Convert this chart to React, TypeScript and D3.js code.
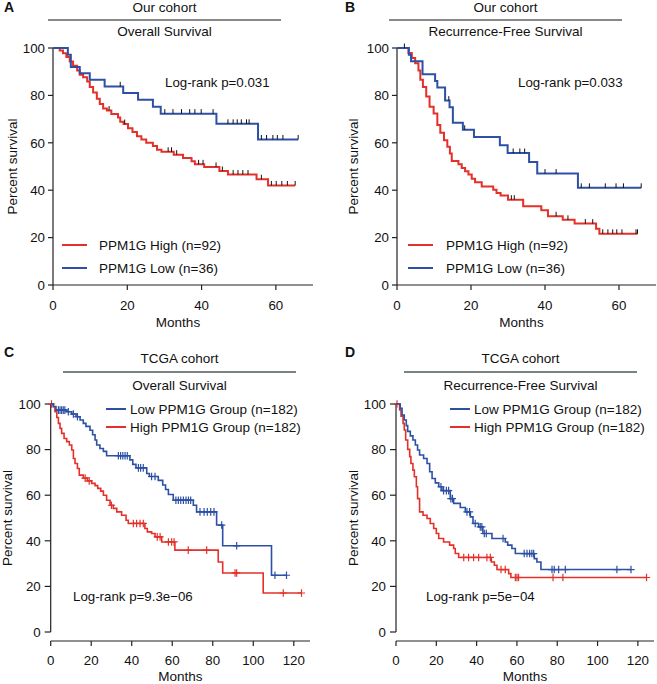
import React from 'react';
import * as d3 from 'd3';

const RED = '#e5302a';
const BLUE = '#2d50a5';
const FONT = '"Liberation Sans", Arial, Helvetica, sans-serif';

// ---------- Panel A: Our cohort, Overall Survival ----------
const aLowTimes = [4.0, 4.8, 7.2, 9.9, 13.9, 18.9, 22.9, 26.9, 29.0, 44.0, 55.2];
const aLowSurv = [97.2, 92.0, 89.3, 86.6, 83.8, 81.0, 78.2, 75.2, 72.3, 68.0, 61.4];
const aLowCensor = [18.1, 30.1, 32.3, 34.6, 36.8, 38.2, 39.9, 43.1, 47.1, 48.5, 49.6, 50.7, 52.1, 52.8, 56.1, 57.5, 59.2, 60.4, 61.9, 66.0];
const aHighTimes = [1.8, 2.7, 3.6, 4.5, 5.4, 6.5, 7.2, 8.1, 9.2, 9.9, 10.8, 11.8, 12.6, 13.5, 14.5, 15.7, 17.5, 18.1, 19.0, 20.2, 21.4, 22.6, 23.8, 25.1, 26.9, 28.0, 29.2, 32.5, 35.0, 37.3, 38.2, 40.7, 44.8, 47.1, 54.8, 57.9];
const aHighSurv = [98.9, 97.8, 96.2, 94.3, 92.5, 90.5, 88.7, 87.7, 85.9, 83.5, 81.2, 78.6, 76.4, 74.5, 73.6, 72.1, 70.7, 68.9, 67.9, 66.1, 64.6, 62.8, 61.4, 60.0, 58.6, 57.1, 56.2, 55.0, 53.6, 52.2, 50.9, 49.8, 48.1, 46.6, 44.6, 42.0];
const aHighCensor = [15.1, 19.3, 31.0, 31.9, 33.3, 39.2, 40.4, 43.9, 45.6, 48.5, 49.8, 51.1, 52.5, 56.1, 58.8, 60.1, 61.6, 63.1, 65.2];

// ---------- Panel B: Our cohort, Recurrence-Free Survival ----------
const bLowTimes = [3.2, 3.8, 6.9, 10.3, 10.9, 13.0, 14.2, 15.1, 17.8, 20.8, 27.8, 29.9, 35.7, 37.9, 48.9];
const bLowSurv = [97.2, 94.4, 88.9, 86.1, 83.3, 77.8, 75.0, 68.5, 65.5, 62.5, 59.0, 55.7, 51.9, 47.0, 41.0];
const bLowCensor = [2.0, 14.0, 18.3, 31.4, 33.2, 34.5, 40.0, 43.0, 49.8, 52.0, 56.3, 59.2, 61.2, 66.0];
const bHighTimes = [3.1, 4.0, 4.9, 5.8, 6.3, 7.0, 7.9, 8.8, 9.9, 10.9, 11.7, 12.7, 13.6, 14.3, 14.8, 16.6, 17.5, 18.4, 19.3, 20.2, 21.1, 22.9, 26.0, 26.9, 28.0, 30.0, 34.1, 39.0, 40.8, 44.8, 48.0, 53.8, 54.7];
const bHighSurv = [97.9, 95.8, 93.6, 90.5, 86.6, 83.5, 79.5, 75.2, 72.4, 67.5, 64.2, 61.1, 58.3, 55.5, 52.3, 50.9, 49.4, 48.0, 46.6, 44.8, 43.4, 41.6, 40.2, 38.8, 37.8, 36.0, 33.2, 31.5, 29.0, 27.5, 25.9, 23.7, 21.6];
const bHighCensor = [30.9, 31.7, 43.0, 46.2, 50.9, 52.9, 55.6, 57.0, 58.3, 59.4, 60.8, 64.6, 65.0];

// ---------- Panel C: TCGA cohort, Overall Survival ----------
const cLowTimes = [1.3, 2.6, 7.9, 10.4, 12.5, 14.5, 16.1, 17.4, 19.4, 20.7, 21.9, 22.7, 24.3, 26.0, 27.6, 39.1, 40.5, 42.1, 47.4, 48.7, 53.1, 55.3, 56.7, 58.1, 60.5, 70.4, 72.0, 81.9, 84.9, 109.0];
const cLowSurv = [98.9, 97.3, 96.6, 95.6, 94.4, 93.0, 91.5, 90.2, 88.5, 86.5, 84.2, 82.0, 80.5, 79.2, 77.3, 75.5, 73.5, 72.0, 69.5, 68.2, 66.5, 64.5, 62.5, 60.3, 57.8, 55.6, 52.7, 46.9, 37.8, 24.9];
const cLowCensor = [3.8, 4.6, 5.4, 6.2, 7.0, 8.7, 11.2, 13.2, 33.4, 34.5, 35.6, 36.7, 37.8, 43.3, 44.4, 45.7, 49.8, 51.5, 61.8, 63.0, 64.2, 65.5, 66.8, 68.0, 69.1, 73.7, 75.7, 77.3, 79.0, 80.6, 84.4, 91.8, 110.7, 116.4];
const cHighTimes = [1.3, 2.1, 3.0, 3.8, 4.6, 5.4, 6.6, 7.9, 9.2, 10.4, 11.2, 12.0, 13.2, 14.1, 16.1, 18.1, 20.2, 21.9, 23.2, 24.7, 26.0, 27.6, 29.3, 30.9, 32.6, 35.0, 37.2, 38.3, 46.5, 47.7, 49.8, 51.5, 54.8, 61.3, 82.7, 84.9, 104.9];
const cHighSurv = [98.8, 96.6, 94.1, 91.5, 89.3, 87.1, 84.9, 83.5, 82.0, 79.8, 76.1, 73.9, 71.7, 68.8, 67.5, 66.3, 65.2, 64.2, 63.0, 61.8, 60.0, 57.8, 55.6, 54.2, 52.7, 51.2, 49.0, 47.6, 45.4, 43.9, 43.2, 41.7, 39.5, 35.9, 30.7, 25.9, 17.1];
const cHighCensor = [0.4, 17.0, 19.0, 30.0, 40.8, 42.4, 44.1, 45.7, 52.6, 54.0, 58.1, 59.7, 60.9, 67.9, 77.0, 91.0, 91.8, 114.8, 123.8];

// ---------- Panel D: TCGA cohort, Recurrence-Free Survival ----------
const dLowTimes = [2.1, 3.0, 4.1, 5.1, 5.8, 7.1, 8.4, 9.6, 10.7, 11.7, 13.7, 15.4, 16.7, 17.9, 19.5, 21.2, 22.8, 26.9, 28.6, 31.9, 34.4, 36.9, 38.2, 41.0, 43.1, 47.6, 54.2, 55.4, 57.5, 59.2, 68.6, 69.9, 71.9];
const dLowSurv = [98.1, 95.2, 93.0, 90.5, 88.0, 86.0, 84.2, 82.0, 79.8, 77.6, 76.1, 73.9, 70.3, 67.3, 65.4, 63.7, 62.0, 58.5, 56.4, 54.6, 52.7, 50.5, 47.6, 46.1, 43.2, 41.0, 39.5, 38.1, 36.6, 34.4, 32.2, 30.7, 27.4];
const dLowCensor = [22.3, 23.6, 25.0, 26.1, 27.2, 28.0, 35.2, 36.5, 39.3, 41.8, 42.6, 43.8, 44.8, 53.1, 63.6, 65.0, 66.3, 67.4, 68.3, 77.4, 78.5, 80.7, 84.0, 109.6, 116.6];
const dHighTimes = [1.8, 2.5, 3.5, 4.1, 4.8, 5.8, 6.8, 7.4, 8.4, 9.1, 10.1, 10.7, 11.7, 13.4, 15.4, 17.0, 18.7, 20.0, 21.2, 23.6, 26.6, 28.6, 29.4, 31.1, 47.3, 48.8, 50.1, 55.9, 57.0];
const dHighSurv = [97.4, 94.7, 91.5, 88.6, 84.2, 80.1, 76.9, 73.9, 71.0, 68.1, 63.7, 58.5, 52.7, 51.2, 49.8, 47.6, 45.4, 43.2, 41.0, 39.5, 38.1, 36.6, 34.4, 32.7, 30.7, 29.3, 27.4, 25.6, 23.9];
const dHighCensor = [0.5, 33.6, 36.0, 38.5, 41.0, 45.1, 46.8, 52.1, 54.2, 59.2, 60.0, 60.8, 77.9, 82.8, 124.3];

const yTickValues = [0, 20, 40, 60, 80, 100];
const xTicksOur = [0, 20, 40, 60];
const xTicksTcga = [0, 20, 40, 60, 80, 100, 120];

type Curve = { times: number[]; surv: number[]; censor: number[]; color: string };

function survAt(c: Curve, t: number) {
  let v = 100;
  c.times.forEach((tt, i) => { if (tt <= t) v = c.surv[i]; });
  return v;
}
function stepPts(c: Curve): [number, number][] {
  const pts: [number, number][] = [[0, 100]];
  c.times.forEach((t, i) => pts.push([t, c.surv[i]]));
  const end = Math.max(c.censor[c.censor.length - 1], c.times[c.times.length - 1]);
  pts.push([end, c.surv[c.surv.length - 1]]);
  return pts;
}

type PanelCfg = {
  letter: string; letterX: number; letterY: number;
  cohort: string; title: string; hx1: number; hx2: number; cohortY: number; lineY: number; titleY: number; hColor: string;
  left: number; right: number; top: number; bottom: number; xMax: number; xTicks: number[];
  style: 'gp' | 'sm';
  curves: Curve[];
  legend: { label: string; color: string }[]; legX1: number; legX2: number; legTextX: number; legY: number[];
  logrank: string; lrX: number; lrY: number;
  ylabX: number; monthsY: number;
};

function Panel({ cfg }: { cfg: PanelCfg }) {
  const x = d3.scaleLinear().domain([0, cfg.xMax]).range([cfg.left, cfg.right]);
  const y = d3.scaleLinear().domain([0, 100]).range([cfg.bottom, cfg.top]);
  const line = d3.line<[number, number]>().x(d => x(d[0])).y(d => y(d[1])).curve(d3.curveStepAfter);
  const gp = cfg.style === 'gp';
  const xAxisY = gp ? y(0) : y(0) + 9;
  const lw = gp ? 2 : 1.6;
  const axisColor = '#222';
  const fs = 13.3;
  return (
    <g fontFamily={FONT}>
      <text x={cfg.letterX} y={cfg.letterY} fontSize={14} fontWeight="bold" fill="#111">{cfg.letter}</text>
      <text x={(cfg.hx1 + cfg.hx2) / 2} y={cfg.cohortY} fontSize={13.5} textAnchor="middle" fill="#111">{cfg.cohort}</text>
      <line x1={cfg.hx1} x2={cfg.hx2} y1={cfg.lineY} y2={cfg.lineY} stroke={cfg.hColor} strokeWidth={1.3} />
      <text x={(cfg.hx1 + cfg.hx2) / 2} y={cfg.titleY} fontSize={13.5} textAnchor="middle" fill="#111">{cfg.title}</text>
      {/* y axis */}
      <line x1={cfg.left} x2={cfg.left} y1={y(100)} y2={y(0)} stroke={axisColor} strokeWidth={1.2} />
      {yTickValues.map(v => (
        <g key={'y' + v}>
          <line x1={cfg.left - (gp ? 5 : 6)} x2={cfg.left} y1={y(v)} y2={y(v)} stroke={axisColor} strokeWidth={1.2} />
          <text x={cfg.left - (gp ? 8 : 10)} y={y(v)} dy="0.36em" fontSize={fs} textAnchor="end" fill="#111">{v}</text>
        </g>
      ))}
      {/* x axis */}
      <line x1={cfg.left} x2={cfg.right} y1={xAxisY} y2={xAxisY} stroke={axisColor} strokeWidth={1.2} />
      {cfg.xTicks.map(v => (
        <g key={'x' + v}>
          <line x1={x(v)} x2={x(v)} y1={xAxisY} y2={xAxisY + 5} stroke={axisColor} strokeWidth={1.2} />
          <text x={x(v)} y={xAxisY + (gp ? 25 : 24)} fontSize={fs} textAnchor="middle" fill="#111">{v}</text>
        </g>
      ))}
      <text x={(cfg.left + cfg.right) / 2 - (gp ? 5 : 0)} y={cfg.monthsY} fontSize={13.5} textAnchor="middle" fill="#111">Months</text>
      <text transform={`translate(${cfg.ylabX},${(y(0) + y(100)) / 2}) rotate(-90)`} fontSize={13.5} textAnchor="middle" fill="#111">Percent survival</text>
      {/* curves */}
      {cfg.curves.map((c, i) => (
        <g key={'c' + i}>
          <path d={line(stepPts(c)) || ''} fill="none" stroke={c.color} strokeWidth={lw} />
          {c.censor.map((t, j) => {
            const cx = x(t), cy = y(survAt(c, t));
            return gp
              ? <line key={j} x1={cx} x2={cx} y1={cy} y2={cy - 4.5} stroke="#111" strokeWidth={1} />
              : <path key={j} d={`M${cx - 3.6},${cy}H${cx + 3.6}M${cx},${cy - 3.8}V${cy + 3.8}`} stroke={c.color} strokeWidth={1.2} fill="none" />;
          })}
        </g>
      ))}
      {/* legend */}
      {cfg.legend.map((l, i) => (
        <g key={'l' + i}>
          <line x1={cfg.legX1} x2={cfg.legX2} y1={cfg.legY[i]} y2={cfg.legY[i]} stroke={l.color} strokeWidth={2} />
          <text x={cfg.legTextX} y={cfg.legY[i]} dy="0.36em" fontSize={13.5} fill="#111">{l.label}</text>
        </g>
      ))}
      <text x={cfg.lrX} y={cfg.lrY} fontSize={13.3} fill="#111">{cfg.logrank}</text>
    </g>
  );
}

const ourLegend = [
  { label: 'PPM1G High (n=92)', color: RED },
  { label: 'PPM1G Low (n=36)', color: BLUE },
];
const tcgaLegend = [
  { label: 'Low PPM1G Group (n=182)', color: BLUE },
  { label: 'High PPM1G Group (n=182)', color: RED },
];

const panels: PanelCfg[] = [
  {
    letter: 'A', letterX: 4, letterY: 12,
    cohort: 'Our cohort', title: 'Overall Survival', hx1: 48, hx2: 281, cohortY: 11.5, lineY: 20, titleY: 35.5, hColor: '#606060',
    left: 53, right: 313, top: 48, bottom: 285, xMax: 70, xTicks: xTicksOur, style: 'gp',
    curves: [
      { times: aHighTimes, surv: aHighSurv, censor: aHighCensor, color: RED },
      { times: aLowTimes, surv: aLowSurv, censor: aLowCensor, color: BLUE },
    ],
    legend: ourLegend, legX1: 62, legX2: 87, legTextX: 99, legY: [245, 268],
    logrank: 'Log-rank p=0.031', lrX: 165, lrY: 86.5, ylabX: 16.5, monthsY: 327,
  },
  {
    letter: 'B', letterX: 345, letterY: 12,
    cohort: 'Our cohort', title: 'Recurrence-Free Survival', hx1: 389, hx2: 622, cohortY: 11.5, lineY: 20, titleY: 35.5, hColor: '#606060',
    left: 397, right: 656, top: 48, bottom: 285, xMax: 70, xTicks: xTicksOur, style: 'gp',
    curves: [
      { times: bHighTimes, surv: bHighSurv, censor: bHighCensor, color: RED },
      { times: bLowTimes, surv: bLowSurv, censor: bLowCensor, color: BLUE },
    ],
    legend: ourLegend, legX1: 408, legX2: 433, legTextX: 446, legY: [245, 268],
    logrank: 'Log-rank p=0.033', lrX: 518, lrY: 86.5, ylabX: 358, monthsY: 327,
  },
  {
    letter: 'C', letterX: 4, letterY: 357,
    cohort: 'TCGA cohort', title: 'Overall Survival', hx1: 63, hx2: 296, cohortY: 363, lineY: 372, titleY: 390, hColor: '#4d5b5a',
    left: 50.7, right: 310, top: 404, bottom: 632, xMax: 128, xTicks: xTicksTcga, style: 'sm',
    curves: [
      { times: cHighTimes, surv: cHighSurv, censor: cHighCensor, color: RED },
      { times: cLowTimes, surv: cLowSurv, censor: cLowCensor, color: BLUE },
    ],
    legend: tcgaLegend, legX1: 106, legX2: 126, legTextX: 130, legY: [409, 427],
    logrank: 'Log-rank p=9.3e\u221206', lrX: 73, lrY: 601, ylabX: 11.5, monthsY: 680.5,
  },
  {
    letter: 'D', letterX: 345, letterY: 357,
    cohort: 'TCGA cohort', title: 'Recurrence-Free Survival', hx1: 404, hx2: 637, cohortY: 363, lineY: 372, titleY: 390, hColor: '#4d5b5a',
    left: 396, right: 654, top: 404, bottom: 632, xMax: 128, xTicks: xTicksTcga, style: 'sm',
    curves: [
      { times: dHighTimes, surv: dHighSurv, censor: dHighCensor, color: RED },
      { times: dLowTimes, surv: dLowSurv, censor: dLowCensor, color: BLUE },
    ],
    legend: tcgaLegend, legX1: 450, legX2: 470, legTextX: 474, legY: [409, 427],
    logrank: 'Log-rank p=5e\u221204', lrX: 426, lrY: 601, ylabX: 358, monthsY: 680.5,
  },
];

export default function App() {
  return (
    <svg width={657} height={684} viewBox="0 0 657 684" style={{ position: 'absolute', left: 0, top: 0, background: '#fff' }}>
      <rect width={657} height={684} fill="#fff" />
      {panels.map(p => <Panel key={p.letter} cfg={p} />)}
    </svg>
  );
}
